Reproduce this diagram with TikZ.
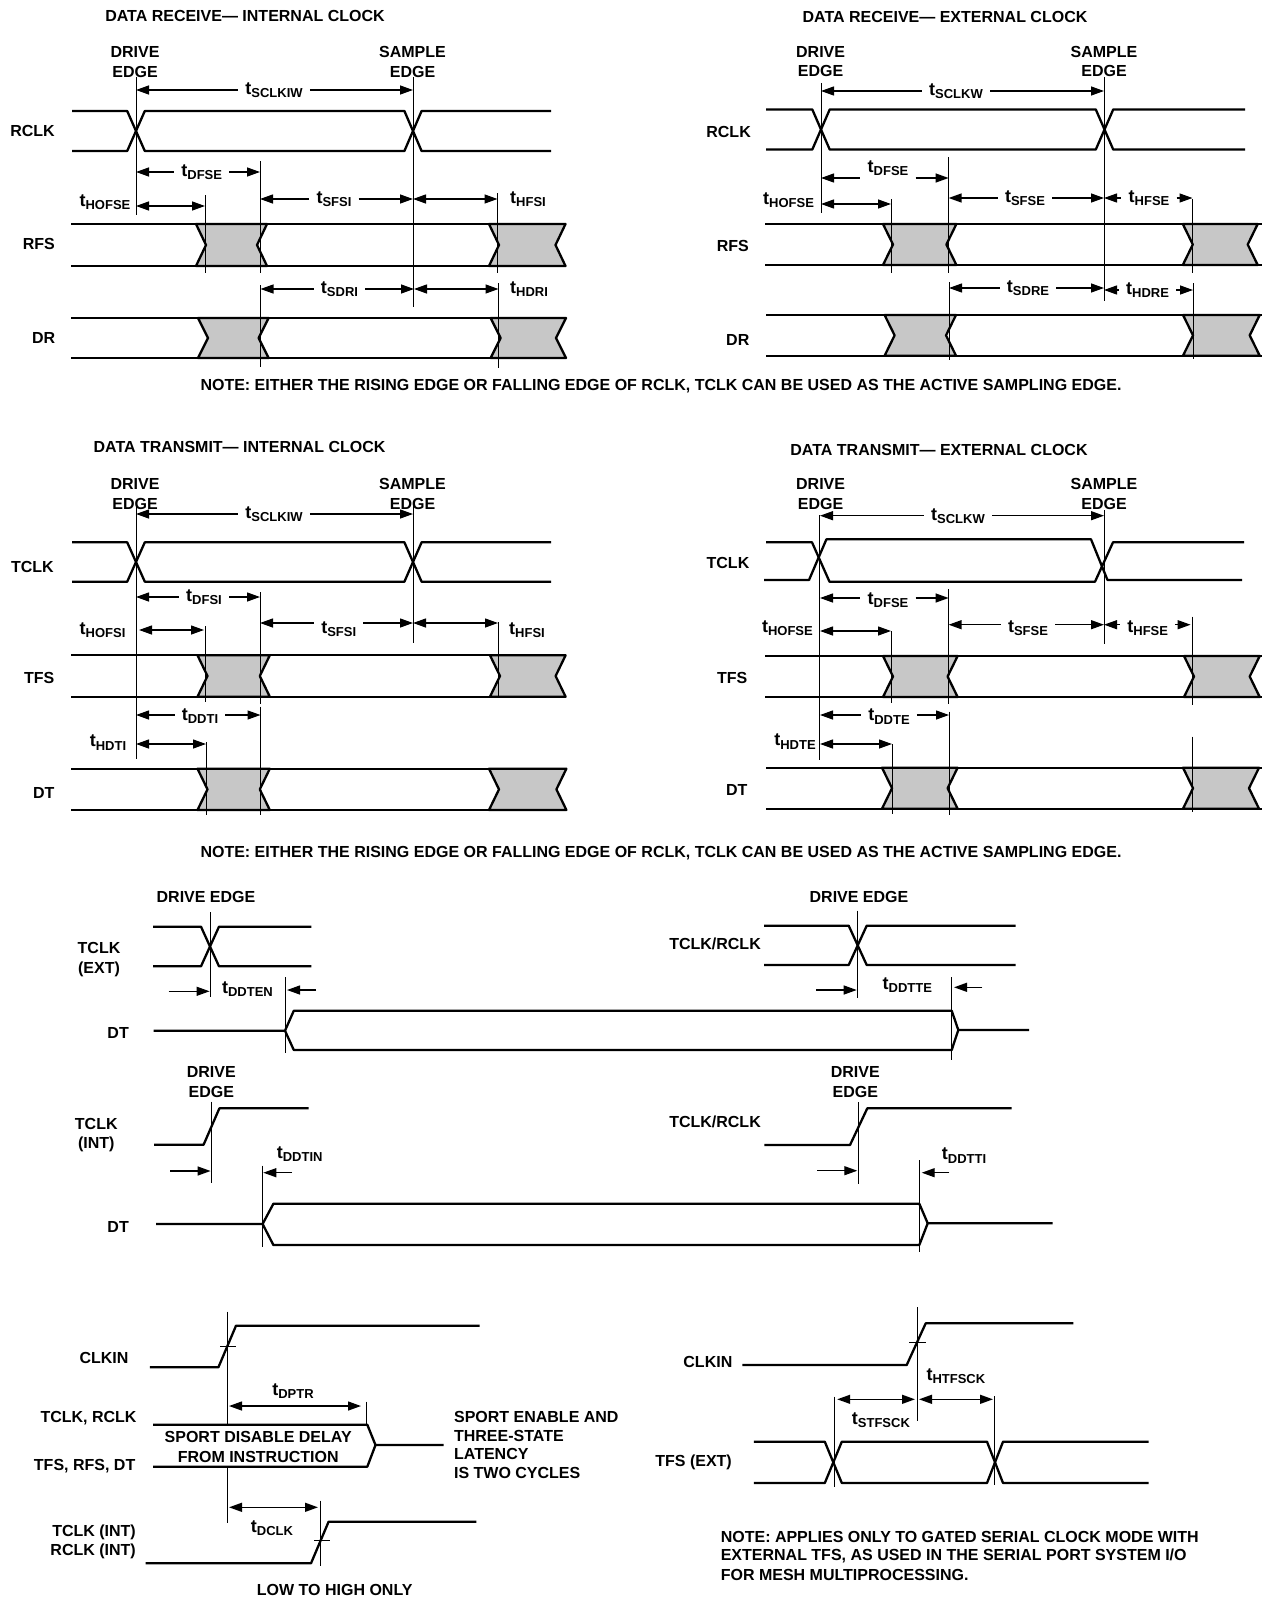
\documentclass[tikz,border=0pt]{standalone}
\usepackage{fontspec}
\setmainfont{Liberation Sans}
\usetikzlibrary{arrows.meta}

\newcommand{\tsub}[1]{{\fontsize{18}{20}\selectfont t}\raisebox{-3.5pt}{\fontsize{13}{14}\selectfont #1}}
\newcommand{\clockpair}[8]{%
    \draw[sigline] (#3,#1) -- (#4-#7,#1) -- (#4+#7,#2) -- (#5-#8,#2) -- (#5+#8,#1) -- (#6,#1);
    \draw[sigline] (#3,#2) -- (#4-#7,#2) -- (#4+#7,#1) -- (#5-#8,#1) -- (#5+#8,#2) -- (#6,#2);}
\newcommand{\crosspair}[5]{%
    \draw[sigline] (#3,#1) -- (#4-9,#1) -- (#4+9,#2) -- (#5,#2);
    \draw[sigline] (#3,#2) -- (#4-9,#2) -- (#4+9,#1) -- (#5,#1);}
\newcommand{\databus}[4]{%
    \draw[sigline] (#3,#1) -- (#4,#1);
    \draw[sigline] (#3,#2) -- (#4,#2);}
\newcommand{\graywin}[4]{%
    \filldraw[sigline, fill=wingray] (#3,#1) -- (#3+10,{(#1+#2)/2}) -- (#3,#2) -- (#4,#2) -- (#4-10,{(#1+#2)/2}) -- (#4,#1) -- cycle;}
\newcommand{\dimgap}[7]{%
    \node[timing] (#1) at (#5,#6) {\tsub{#7}};
    \coordinate (#1a) at (#2,#4);
    \coordinate (#1b) at (#3,#4);
    \draw[dimline,<-] (#1a) -- (#1a -| #1.west);
    \draw[dimline,->] (#1a -| #1.east) -- (#1b);}
\newcommand{\dimboth}[4]{%
    \coordinate (#1a) at (#2,#4);
    \coordinate (#1b) at (#3,#4);
    \draw[dimline,<->] (#1a) -- (#1b);}
\newcommand{\dimone}[4]{%
    \coordinate (#1a) at (#2,#4);
    \coordinate (#1b) at (#3,#4);
    \draw[dimline,->] (#1a) -- (#1b);}

\begin{document}
\begin{tikzpicture}[
    x=1pt, y=-1pt,
    >={Triangle[length=13pt,width=9pt]},
    every node/.style={font=\bfseries\fontsize{16}{19.5}\selectfont, inner sep=0pt, text=black},
    sigline/.style={line width=2.3pt, line join=round},
    ticky/.style={line width=1pt},
    dimline/.style={line width=1.3pt},
    timing/.style={inner xsep=7pt, inner ysep=3pt},
    sigleft/.style={anchor=east},
    textleft/.style={anchor=west},
    twolines/.style={align=center}
]
    \definecolor{wingray}{gray}{0.78}
    \fill[white] (0,0) rectangle (1262,1600);
    \useasboundingbox (0,0) rectangle (1262,1600);

    % Data receive, internal clock
    \node (title1) at (245,16) {DATA RECEIVE--- INTERNAL CLOCK};
    \node[twolines] (drive1) at (135,62) {DRIVE\\EDGE};
    \node[twolines] (sample1) at (412.5,62) {SAMPLE\\EDGE};
    \node[sigleft] (rclk1) at (55,131) {RCLK};
    \node[sigleft] (rfs1) at (55,244) {RFS};
    \node[sigleft] (dr1) at (55.5,338) {DR};
    \clockpair{111}{151}{72}{136}{413}{551}{8.8}{8.6}
    \graywin{224}{266}{196}{267}
    \graywin{224}{266}{489}{565.5}
    \databus{224}{266}{71}{566}
    \graywin{318}{358}{198}{268.6}
    \graywin{318}{358}{490.6}{566}
    \databus{318}{358}{71}{566}
    \draw[ticky] (136,77) -- (136,215);
    \draw[ticky] (413,77) -- (413,307);
    \draw[ticky] (260,161) -- (260,273);
    \draw[ticky] (205,195) -- (205,273);
    \draw[ticky] (497.5,193) -- (497.5,273);
    \draw[ticky] (260.5,285) -- (260.5,367);
    \draw[ticky] (498.5,283) -- (498.5,368);
    \dimgap{sclk1}{136}{413}{90}{274}{90}{SCLKIW}
    \dimgap{dfse1}{136}{260}{172}{201.7}{172}{DFSE}
    \dimgap{sfsi1}{260}{413}{199}{334}{199}{SFSI}
    \dimboth{hfs1}{413}{497.5}{199}
    \node (hfsi1) at (528,199) {\tsub{HFSI}};
    \node (hofse1) at (105,202) {\tsub{HOFSE}};
    \dimboth{hof1}{136}{205}{206}
    \dimgap{sdri1}{260.5}{414}{289}{339.5}{289}{SDRI}
    \dimboth{hdr1}{414}{498.5}{289}
    \node (hdri1) at (529,289) {\tsub{HDRI}};

    % Data receive, external clock
    \node (title2) at (945,17) {DATA RECEIVE--- EXTERNAL CLOCK};
    \node[twolines] (drive2) at (820.6,61.5) {DRIVE\\EDGE};
    \node[twolines] (sample2) at (1104,61.5) {SAMPLE\\EDGE};
    \node[sigleft] (rclk2) at (751,132) {RCLK};
    \node[sigleft] (rfs2) at (749,245.5) {RFS};
    \node[sigleft] (dr2) at (749.5,340) {DR};
    \clockpair{109.5}{149.5}{766}{821}{1104.5}{1245}{8.7}{8.7}
    \graywin{224}{265}{883}{956.4}
    \graywin{224}{265}{1182.8}{1257.7}
    \databus{224}{265}{765}{1262}
    \graywin{315}{355.7}{884.6}{956}
    \graywin{315}{355.7}{1183}{1259.7}
    \databus{315}{355.7}{766}{1262}
    \draw[ticky] (821,83) -- (821,213);
    \draw[ticky] (1104.3,77) -- (1104.3,301);
    \draw[ticky] (948.6,157) -- (948.6,273);
    \draw[ticky] (891,199) -- (891,273);
    \draw[ticky] (1192.5,199) -- (1192.5,273);
    \draw[ticky] (949,282) -- (949,360);
    \draw[ticky] (1193,283) -- (1193,359);
    \dimgap{sclk2}{821}{1104}{91}{956}{91}{SCLKW}
    \dimgap{dfse2}{821}{948.6}{178}{888}{168}{DFSE}
    \dimgap{sfse2}{948.6}{1104}{198}{1025}{198}{SFSE}
    \dimgap{hfse2}{1104}{1192.5}{198}{1149}{198}{HFSE}
    \node (hofse2) at (788.6,200) {\tsub{HOFSE}};
    \dimboth{hof2}{821}{891}{204}
    \dimgap{sdre2}{949}{1104}{288}{1028}{288}{SDRE}
    \dimgap{hdre2}{1104}{1193}{290}{1147.6}{290}{HDRE}

    \node (note1) at (661,386) {NOTE: EITHER THE RISING EDGE OR FALLING EDGE OF RCLK, TCLK CAN BE USED AS THE ACTIVE SAMPLING EDGE.};

    % Data transmit, internal clock
    \node (title3) at (239.5,446.5) {DATA TRANSMIT--- INTERNAL CLOCK};
    \node[twolines] (drive3) at (135,494) {DRIVE\\EDGE};
    \node[twolines] (sample3) at (412.5,494) {SAMPLE\\EDGE};
    \node[sigleft] (tclk3) at (54,566.5) {TCLK};
    \node[sigleft] (tfs3) at (54.5,678) {TFS};
    \node[sigleft] (dt3) at (54.7,793) {DT};
    \clockpair{542.3}{581.7}{72}{136}{413}{551}{8.8}{8.6}
    \graywin{655.3}{696.7}{197.5}{269.8}
    \graywin{655.3}{696.7}{490}{565.6}
    \databus{655.3}{696.7}{71}{566}
    \graywin{768.7}{810}{197.5}{269.8}
    \graywin{768.7}{810}{489}{566.4}
    \databus{768.7}{810}{71}{566}
    \draw[ticky] (136,502) -- (136,759);
    \draw[ticky] (413,502) -- (413,643);
    \draw[ticky] (260,592) -- (260,704);
    \draw[ticky] (205,626) -- (205,702);
    \draw[ticky] (498,622) -- (498,697);
    \draw[ticky] (260.5,706.7) -- (260.5,815);
    \draw[ticky] (206,742) -- (206,815);
    \dimgap{sclk3}{136}{413}{514}{274}{514}{SCLKIW}
    \dimgap{dfsi3}{136}{260}{597}{204}{597}{DFSI}
    \dimgap{sfsi3}{260}{413}{623}{338.7}{629}{SFSI}
    \dimboth{hfs3}{413}{498}{623}
    \node (hfsi3) at (527,630) {\tsub{HFSI}};
    \node (hofsi3) at (102.6,630) {\tsub{HOFSI}};
    \dimboth{hof3}{139}{204}{630}
    \dimgap{ddti3}{136}{260.5}{715}{200}{716}{DDTI}
    \node (hdti3) at (108,742.7) {\tsub{HDTI}};
    \dimboth{hdt3}{136}{206}{744}

    % Data transmit, external clock
    \node (title4) at (939,450) {DATA TRANSMIT--- EXTERNAL CLOCK};
    \node[twolines] (drive4) at (820.6,494) {DRIVE\\EDGE};
    \node[twolines] (sample4) at (1104,494) {SAMPLE\\EDGE};
    \node[sigleft] (tclk4) at (749.5,563) {TCLK};
    \node[sigleft] (tfs4) at (747.6,678) {TFS};
    \node[sigleft] (dt4) at (747.6,790) {DT};
    \draw[sigline] (766,542.3) -- (812,542.3) -- (829.5,581.7) -- (1095,581.7) -- (1113,542.3) -- (1244,542.3);
    \draw[sigline] (764,580) -- (809,580) -- (826.4,539.3) -- (1091,539.3) -- (1107.5,580) -- (1242,580);
    \graywin{656}{697}{883}{957.6}
    \graywin{656}{697}{1184}{1259.7}
    \databus{656}{697}{765}{1262}
    \graywin{767.7}{808.7}{882}{957.6}
    \graywin{767.7}{808.7}{1183}{1259}
    \databus{767.7}{808.7}{766}{1262}
    \draw[ticky] (819.4,515) -- (819.4,760);
    \draw[ticky] (1104,510) -- (1104,644);
    \draw[ticky] (948.6,589) -- (948.6,704);
    \draw[ticky] (891,631) -- (891,703);
    \draw[ticky] (1192,616.7) -- (1192,705);
    \draw[ticky] (949,711.7) -- (949,815);
    \draw[ticky] (892.4,744) -- (892.4,814);
    \draw[ticky] (1192.5,736.7) -- (1192.5,812);
    \dimgap{sclk4}{820}{1104}{515.7}{958}{516}{SCLKW}
    \dimgap{dfse4}{820}{948.6}{598}{888}{600}{DFSE}
    \dimgap{sfse4}{948.6}{1104}{624.7}{1028}{628}{SFSE}
    \dimgap{hfse4}{1104}{1190.6}{624.7}{1147.7}{628}{HFSE}
    \node (hofse4) at (787.4,628) {\tsub{HOFSE}};
    \dimboth{hof4}{820}{891}{631}
    \dimgap{ddte4}{820}{949}{715}{889}{716.7}{DDTE}
    \node (hdte4) at (795,741.7) {\tsub{HDTE}};
    \dimboth{hdt4}{820}{892}{744}

    \node (note2) at (661,853) {NOTE: EITHER THE RISING EDGE OR FALLING EDGE OF RCLK, TCLK CAN BE USED AS THE ACTIVE SAMPLING EDGE.};

    % Three-state delay, external clock
    \node (drive5) at (206,896.7) {DRIVE EDGE};
    \node[twolines] (tclk5) at (99,959.5) {TCLK\\(EXT)};
    \node[sigleft] (dt5) at (129,1032.7) {DT};
    \crosspair{926.7}{966.3}{153}{210}{311.3}
    \draw[ticky] (210.3,912) -- (210.3,996.7);
    \dimone{in5}{168.6}{209.6}{991.3}
    \node (ddten5) at (247.5,989) {\tsub{DDTEN}};
    \draw[ticky] (285,977) -- (285,1053.3);
    \dimone{out5}{316}{287}{990}
    \draw[sigline] (153.5,1030.7) -- (285,1030.7) -- (293.8,1010.7) -- (951.7,1010.7) -- (958.3,1030) -- (1029,1030);
    \draw[sigline] (285,1030.7) -- (293.8,1050) -- (951.7,1050) -- (958.3,1030);
    \node (drive6) at (859,896.7) {DRIVE EDGE};
    \node[sigleft] (clks6) at (761,944) {TCLK/RCLK};
    \crosspair{925.7}{965}{764}{857.7}{1015.7}
    \draw[ticky] (857.7,910.7) -- (857.7,998.3);
    \dimone{in6}{816}{856.7}{990}
    \node (ddtte6) at (907.3,985) {\tsub{DDTTE}};
    \draw[ticky] (951.7,977.3) -- (951.7,1060);
    \dimone{out6}{982.3}{954}{987.3}

    % Three-state delay, internal clock
    \node[twolines] (drive7) at (211.3,1082) {DRIVE\\EDGE};
    \node[twolines] (tclk7) at (96.3,1135.3) {TCLK\\(INT)};
    \node[sigleft] (dt7) at (129,1226.7) {DT};
    \draw[sigline] (154,1144.7) -- (203.6,1144.7) -- (219.4,1108.3) -- (308.5,1108.3);
    \draw[ticky] (211.3,1101.7) -- (211.3,1182.7);
    \dimone{in7}{170}{210.6}{1171}
    \node (ddtin7) at (299.7,1154) {\tsub{DDTIN}};
    \draw[ticky] (262.6,1165.7) -- (262.6,1246.7);
    \dimone{out7}{292}{263.3}{1172.7}
    \draw[sigline] (156,1224) -- (262.6,1224) -- (273.4,1203.7) -- (919.3,1203.7) -- (927.7,1223.3) -- (1052.7,1223.3);
    \draw[sigline] (262.6,1224) -- (273.4,1245) -- (919.3,1245) -- (927.7,1223.3);
    \node[twolines] (drive8) at (855.3,1082) {DRIVE\\EDGE};
    \node[sigleft] (clks8) at (761,1122.3) {TCLK/RCLK};
    \draw[sigline] (764.3,1145) -- (850,1145) -- (867.3,1108.3) -- (1011.7,1108.3);
    \draw[ticky] (858.3,1102.3) -- (858.3,1184);
    \dimone{in8}{817.3}{857.3}{1170.7}
    \node (ddtti8) at (964,1155.7) {\tsub{DDTTI}};
    \draw[ticky] (919.7,1160) -- (919.7,1252);
    \dimone{out8}{949.3}{921.7}{1172.7}

    % SPORT disable
    \node[sigleft] (clkin9) at (128.6,1358.3) {CLKIN};
    \node[sigleft] (clks9) at (136.7,1417.7) {TCLK, RCLK};
    \node[sigleft] (syncs9) at (135.5,1465.7) {TFS, RFS, DT};
    \node[sigleft] (tint9) at (136,1532.7) {TCLK (INT)};
    \node[sigleft] (rint9) at (136,1551.7) {RCLK (INT)};
    \draw[sigline] (149.8,1367.3) -- (218.4,1367.3) -- (236,1325.7) -- (479.6,1325.7);
    \draw[ticky] (227.3,1311.7) -- (227.3,1424.7);
    \draw[ticky] (227.3,1466.7) -- (227.3,1523.3);
    \draw[ticky] (220.4,1346) -- (236,1346);
    \node (dptr9) at (293,1391) {\tsub{DPTR}};
    \dimboth{dp9}{229}{361}{1406}
    \draw[ticky] (366.5,1401.7) -- (366.5,1425);
    \draw[sigline] (153,1424.7) -- (367.3,1424.7) -- (375.5,1445) -- (443.7,1445);
    \draw[sigline] (153,1466.7) -- (367.3,1466.7) -- (375.5,1445);
    \node[twolines] (disable9) at (258.2,1446.8) {SPORT DISABLE DELAY\\FROM INSTRUCTION};
    \node[textleft] (en1) at (453.9,1416.7) {SPORT ENABLE AND};
    \node[textleft] (en2) at (453.9,1435.7) {THREE-STATE};
    \node[textleft] (en3) at (453.9,1454) {LATENCY};
    \node[textleft] (en4) at (453.9,1473.3) {IS TWO CYCLES};
    \dimboth{dc9}{229}{318}{1507.3}
    \draw[ticky] (320.4,1500.7) -- (320.4,1566);
    \node (dclk9) at (272,1528) {\tsub{DCLK}};
    \draw[sigline] (145.7,1563.3) -- (311,1563.3) -- (328.6,1521.7) -- (476.3,1521.7);
    \draw[ticky] (314.3,1540.7) -- (330,1540.7);
    \node (low9) at (334.7,1590) {LOW TO HIGH ONLY};

    % Gated clock setup and hold
    \node[sigleft] (clkin10) at (732.5,1361.7) {CLKIN};
    \node[sigleft] (tfs10) at (732,1462) {TFS (EXT)};
    \draw[sigline] (742.4,1365) -- (906.7,1365) -- (925.7,1323.3) -- (1073.3,1323.3);
    \draw[ticky] (917.4,1307.3) -- (917.4,1420.7);
    \draw[ticky] (909,1342.3) -- (925.7,1342.3);
    \node (htf10) at (955.9,1376) {\tsub{HTFSCK}};
    \dimboth{st10}{837.2}{915}{1399.3}
    \dimboth{ht10}{919}{993}{1399.3}
    \draw[ticky] (834,1396.7) -- (834,1486.7);
    \draw[ticky] (994.4,1396) -- (994.4,1485);
    \node (stf10) at (880.9,1420) {\tsub{STFSCK}};
    \clockpair{1441.7}{1483}{753.9}{833.3}{995}{1148.7}{8.5}{8}
    \node[textleft] (nt1) at (720.6,1536.7) {NOTE: APPLIES ONLY TO GATED SERIAL CLOCK MODE WITH};
    \node[textleft] (nt2) at (720.6,1555.7) {EXTERNAL TFS, AS USED IN THE SERIAL PORT SYSTEM I/O};
    \node[textleft] (nt3) at (720.6,1575) {FOR MESH MULTIPROCESSING.};
\end{tikzpicture}
\end{document}
